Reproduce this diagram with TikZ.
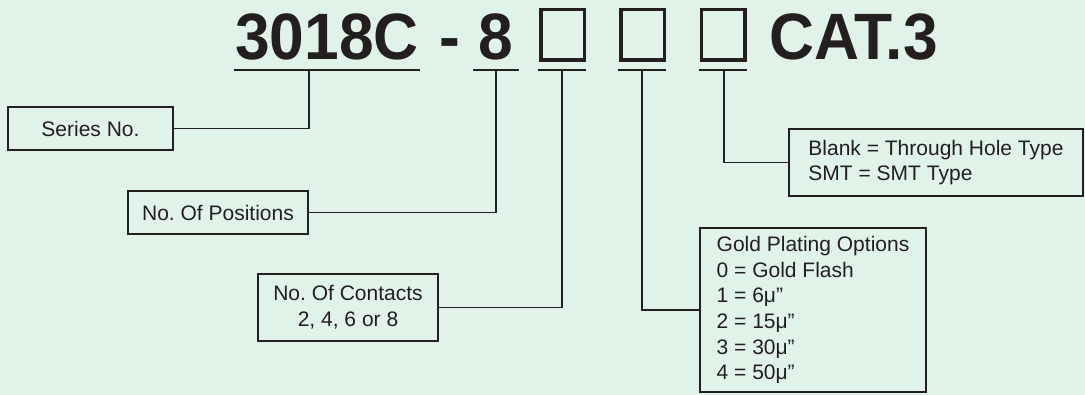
\documentclass[tikz,border=0pt]{standalone}
\usepackage{fontspec}
\setmainfont{Liberation Sans}
\usepackage{xcolor}
\usetikzlibrary{positioning}
\definecolor{bgc}{RGB}{225,242,232}
\definecolor{ink}{RGB}{35,31,32}
\newcommand{\ttl}[1]{\scalebox{0.95}[1]{\fontsize{65.6}{70}\selectfont\bfseries #1}}
\frenchspacing

\begin{document}
\begin{tikzpicture}[x=1pt, y=-1pt, font=\fontsize{21}{25.7}\selectfont, color=ink,
  box/.style={draw=ink, line width=1.8pt, inner sep=0pt, align=center},
  lbox/.style={draw=ink, line width=1.8pt, inner xsep=16pt, inner ysep=0pt, align=left},
  sq/.style={draw=ink, line width=3.5pt, minimum width=43.5pt, minimum height=50.5pt, inner sep=0pt},
  uline/.style={draw=ink, line width=2pt},
  conn/.style={draw=ink, line width=1.8pt}]
  \fill[bgc] (0,0) rectangle (1085,395);
  \useasboundingbox (0,0) rectangle (1085,395);
  % part number
  \node[anchor=base, inner sep=0pt] (ser) at (327,60) {\ttl{3018C}};
  \node[anchor=base, inner sep=0pt] (dash) at (450,60) {\ttl{-}};
  \node[anchor=base, inner sep=0pt] (pos) at (496,60) {\ttl{8}};
  \node[sq] (sq1) at (562.5,35) {};
  \node[sq] (sq2) at (642.5,35) {};
  \node[sq] (sq3) at (723,35) {};
  \node[anchor=base, inner sep=0pt] (cat) at (853.5,60) {\ttl{CAT.3}};
  % underlines and tick points
  \draw[uline] (234,70) -- (420,70);
  \draw[uline] (473,70) -- (519,70);
  \draw[uline] (538,70) -- (586,70);
  \draw[uline] (618,70) -- (666,70);
  \draw[uline] (699,70) -- (747,70);
  \coordinate (u1) at (309,70);
  \coordinate (u2) at (496,70);
  \coordinate (u3) at (562,70);
  \coordinate (u4) at (642,70);
  \coordinate (u5) at (724,70);
  % description boxes
  \node[box, minimum width=165pt, minimum height=43pt] (series) at (90.5,128.5) {Series No.};
  \node[box, minimum width=180pt, minimum height=43pt] (posn) at (218,212.5) {No. Of Positions};
  \node[box, minimum width=180pt, minimum height=67pt] (cont) at (348,307.5) {No. Of Contacts\\2, 4, 6 or 8};
  \node[lbox, inner xsep=18pt, minimum width=294pt, minimum height=67pt] (smt) at (936,162.5)
    {Blank = Through Hole Type\\SMT = SMT Type};
  \node[lbox, minimum width=226pt, minimum height=164pt] (gold) at (813,310)
    {Gold Plating Options\\0 = Gold Flash\\1 = 6μ”\\2 = 15μ”\\3 = 30μ”\\4 = 50μ”};
  % connectors
  \draw[conn] (u1) |- (series.east);
  \draw[conn] (u2) |- (posn.east);
  \draw[conn] (u3) |- (cont.east);
  \draw[conn] (u4) |- (gold.west);
  \draw[conn] (u5) |- (smt.west);
\end{tikzpicture}
\end{document}
